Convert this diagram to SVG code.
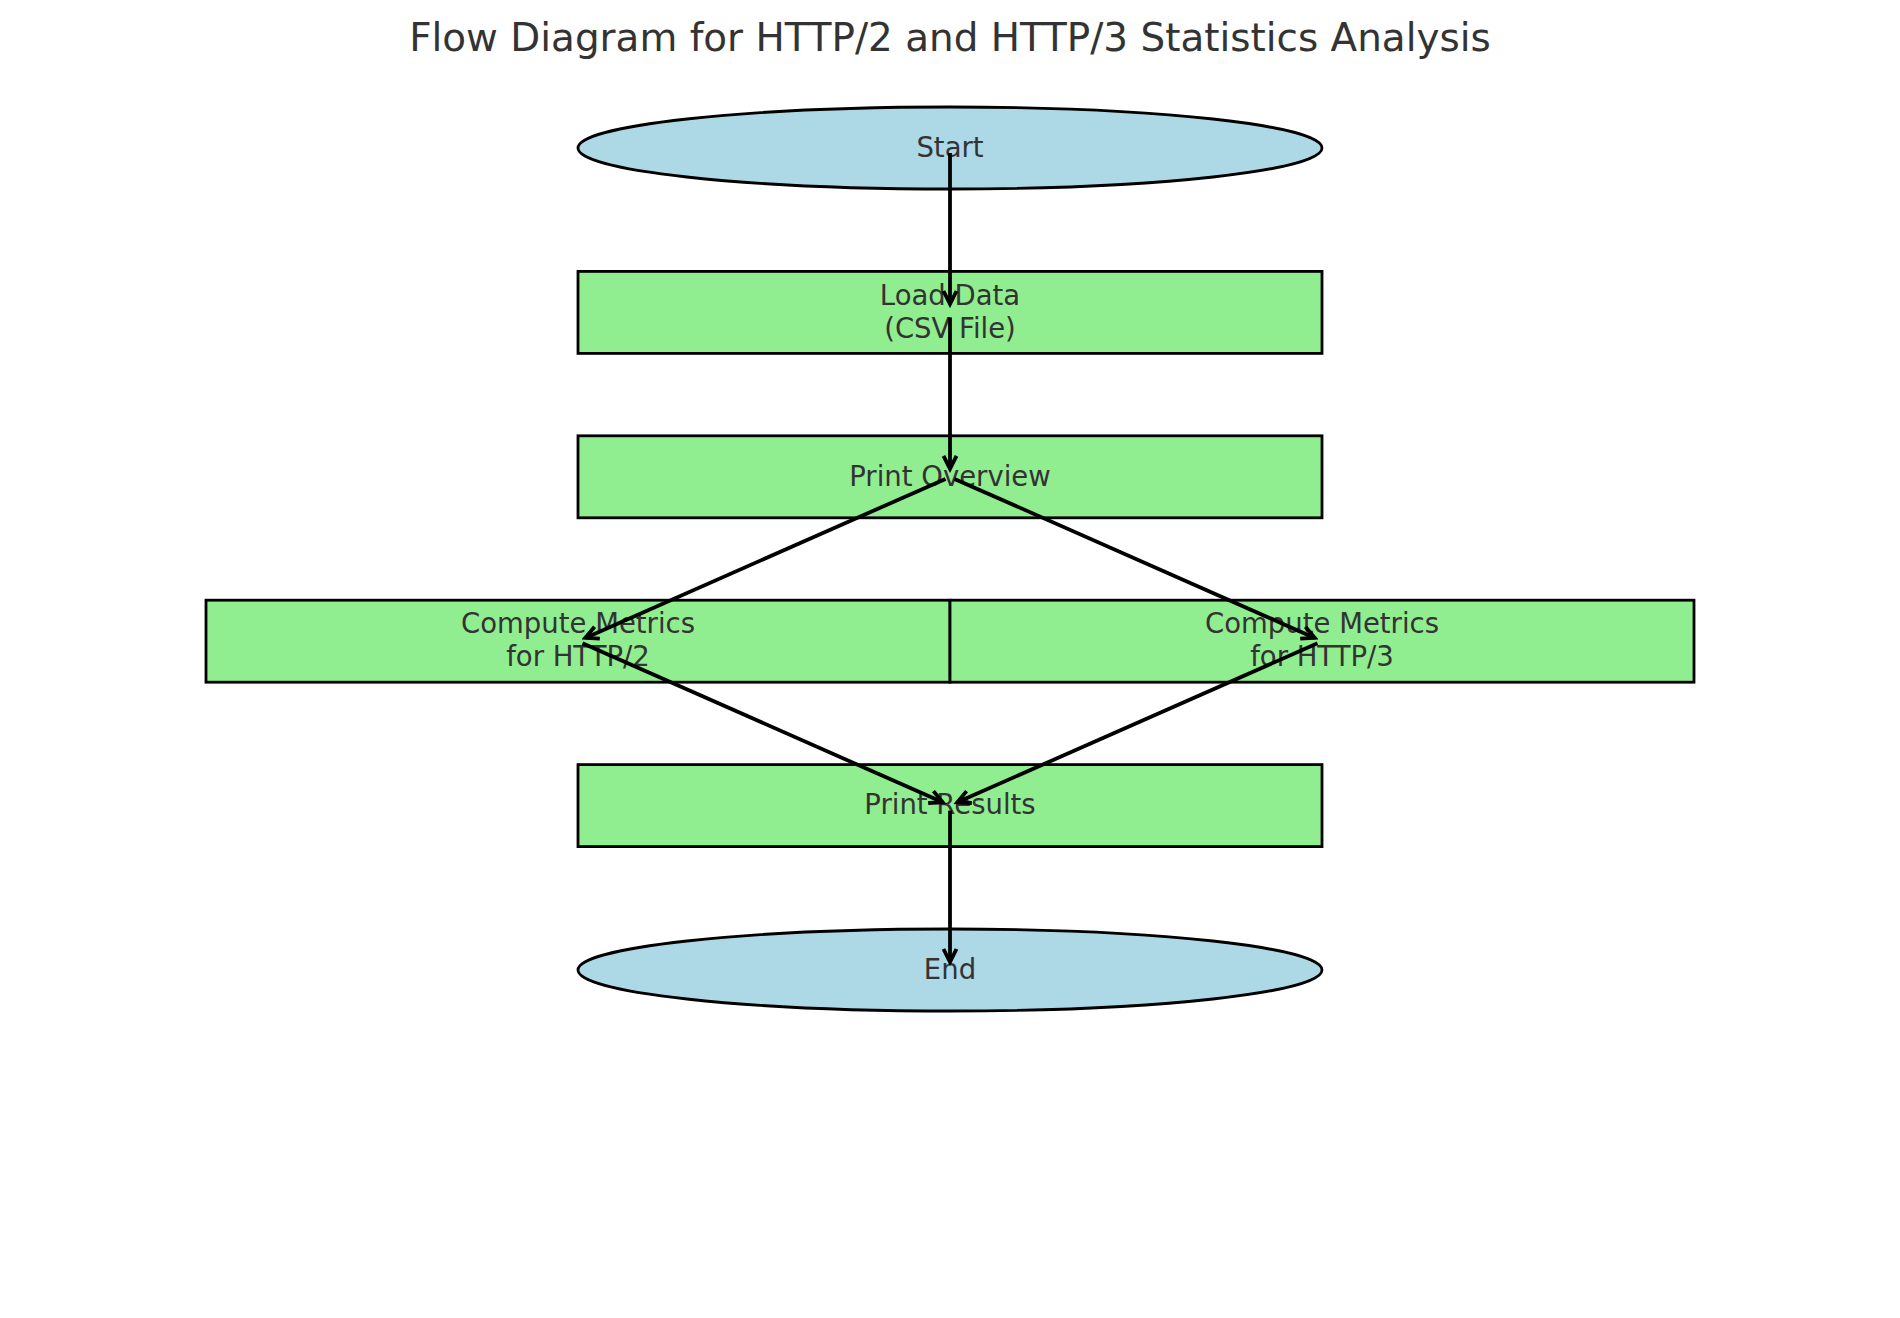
<svg xmlns="http://www.w3.org/2000/svg" width="1900" height="1318" viewBox="0 0 1900 1318">
<style>
.t{font-family:"DejaVu Sans",sans-serif;font-size:27.5px;fill:#333333;text-anchor:middle}
.title{font-family:"DejaVu Sans",sans-serif;font-size:38.9px;fill:#333333;text-anchor:middle}
.term{fill:#ADD8E6;stroke:#000;stroke-width:2.8}
.proc{fill:#90EE90;stroke:#000;stroke-width:2.8}
.c{stroke:#000;stroke-width:3.8;fill:none;marker-end:url(#ah)}
</style>
<defs>
<marker id="ah" markerUnits="userSpaceOnUse" markerWidth="20" markerHeight="20" viewBox="-16 -10 20 20" refX="0" refY="0" orient="auto">
<path d="M-13,-6.5 L0,0 L-13,6.5" fill="none" stroke="#000" stroke-width="3.8"/>
</marker>
</defs>
<rect width="1900" height="1318" fill="#ffffff"/>
<text class="title" x="950" y="51">Flow Diagram for HTTP/2 and HTTP/3 Statistics Analysis</text>
<g id="start">
<ellipse class="term" cx="950" cy="148" rx="372" ry="41"/>
<text class="t" x="950" y="157">Start</text>
</g>
<g id="load">
<rect class="proc" x="578" y="271.4" width="744" height="82"/>
<text class="t" x="950" y="305">Load Data</text>
<text class="t" x="950" y="338">(CSV File)</text>
</g>
<g id="overview">
<rect class="proc" x="578" y="435.8" width="744" height="82"/>
<text class="t" x="950" y="485.5">Print Overview</text>
</g>
<g id="http2">
<rect class="proc" x="206" y="600.2" width="744" height="82"/>
<text class="t" x="578" y="633">Compute Metrics</text>
<text class="t" x="578" y="666">for HTTP/2</text>
</g>
<g id="http3">
<rect class="proc" x="950" y="600.2" width="744" height="82"/>
<text class="t" x="1322" y="633">Compute Metrics</text>
<text class="t" x="1322" y="666">for HTTP/3</text>
</g>
<g id="results">
<rect class="proc" x="578" y="764.6" width="744" height="82"/>
<text class="t" x="950" y="814">Print Results</text>
</g>
<g id="end">
<ellipse class="term" cx="950" cy="970" rx="372" ry="41"/>
<text class="t" x="950" y="979">End</text>
</g>
<g id="connectors">
<line class="c" x1="950" y1="153" x2="950" y2="304"/>
<line class="c" x1="950" y1="317.4" x2="950" y2="468.8"/>
<line class="c" x1="945.5" y1="478.9" x2="585.3" y2="637.9"/>
<line class="c" x1="954.5" y1="478.9" x2="1314.7" y2="637.9"/>
<line class="c" x1="582.5" y1="643.3" x2="942.7" y2="802.3"/>
<line class="c" x1="1317.5" y1="643.3" x2="957.3" y2="802.3"/>
<line class="c" x1="950" y1="810.6" x2="950" y2="962"/>
</g>
</svg>
